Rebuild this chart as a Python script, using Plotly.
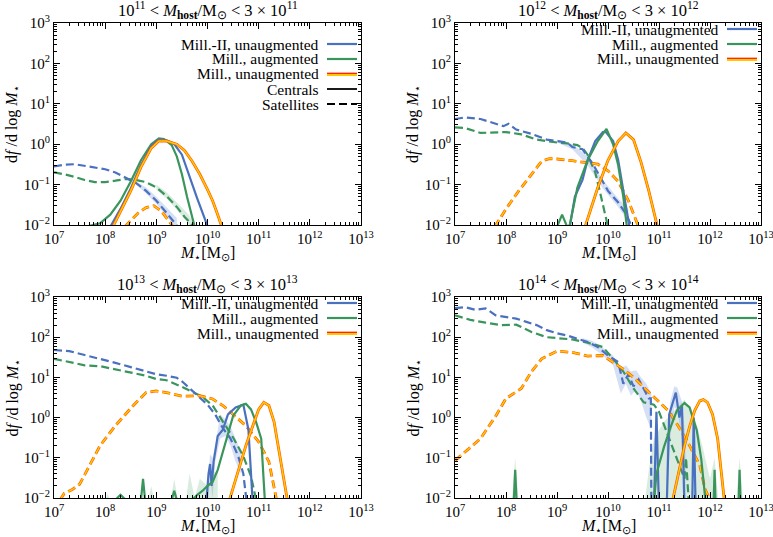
import plotly.graph_objects as go

W, H = 773, 537
FONT = "Liberation Serif"

# ---------------- data (x given as log10 of M*/Msun) ----------------
# Panel 1: 1e11 < Mhost < 3e11
P1_BLUE_C_X = [8.1, 8.3, 8.5, 8.7, 8.9, 9.05, 9.2, 9.35, 9.5, 9.65, 9.8, 9.95, 10.02]
P1_BLUE_C_Y = [0.009, 0.025, 0.08, 0.3, 0.9, 1.3, 1.25, 1.0, 0.55, 0.15, 0.045, 0.014, 0.008]
P1_GREEN_C_X = [7.7, 7.9, 8.1, 8.3, 8.5, 8.7, 8.9, 9.05, 9.15, 9.3, 9.4, 9.5, 9.6, 9.7, 9.76]
P1_GREEN_C_Y = [0.0095, 0.011, 0.018, 0.04, 0.12, 0.4, 1.0, 1.4, 1.35, 0.95, 0.5, 0.18, 0.05, 0.015, 0.008]
P1_ORANGE_C_X = [8.15, 8.3, 8.5, 8.7, 8.9, 9.05, 9.2, 9.4, 9.55, 9.7, 9.85, 10.0, 10.1, 10.2, 10.28]
P1_ORANGE_C_Y = [0.009, 0.022, 0.07, 0.27, 0.8, 1.2, 1.2, 1.0, 0.7, 0.38, 0.18, 0.075, 0.04, 0.018, 0.009]
P1_BLUE_S_X = [7.0, 7.2, 7.4, 7.6, 7.8, 8.0, 8.2, 8.4, 8.6, 8.8, 9.0, 9.2, 9.35, 9.42]
P1_BLUE_S_Y = [0.28, 0.31, 0.32, 0.29, 0.26, 0.24, 0.2, 0.15, 0.11, 0.07, 0.04, 0.02, 0.012, 0.009]
P1_GREEN_S_X = [7.0, 7.2, 7.4, 7.6, 7.8, 8.0, 8.2, 8.4, 8.6, 8.8, 9.0, 9.2, 9.4, 9.55, 9.7, 9.75]
P1_GREEN_S_Y = [0.2, 0.18, 0.155, 0.13, 0.115, 0.115, 0.125, 0.138, 0.13, 0.115, 0.085, 0.052, 0.028, 0.016, 0.01, 0.008]
P1_ORANGE_S_X = [8.38, 8.5, 8.65, 8.8, 8.95, 9.1, 9.25, 9.33]
P1_ORANGE_S_Y = [0.009, 0.013, 0.02, 0.027, 0.03, 0.022, 0.012, 0.009]
P1_BAND_BLUE_X = [8.6, 8.8, 9.0, 9.2, 9.4]
P1_BAND_BLUE_HI = [0.12, 0.085, 0.05, 0.027, 0.015]
P1_BAND_BLUE_LO = [0.1, 0.06, 0.033, 0.016, 0.008]
P1_BAND_GREEN_X = [9.0, 9.2, 9.4, 9.6, 9.75]
P1_BAND_GREEN_HI = [0.1, 0.065, 0.036, 0.02, 0.011]
P1_BAND_GREEN_LO = [0.075, 0.045, 0.024, 0.012, 0.006]

# Panel 2: 1e12 < Mhost < 3e12
P2_BLUE_S_X = [7.0, 7.2, 7.5, 7.8, 7.95, 8.05, 8.2, 8.5, 8.8, 9.0, 9.2, 9.3, 9.5, 9.7, 9.85, 10.0, 10.2, 10.35, 10.47]
P2_BLUE_S_Y = [4.2, 4.6, 4.2, 3.3, 2.8, 3.2, 2.3, 1.8, 1.3, 1.2, 1.1, 0.85, 0.75, 0.33, 0.15, 0.07, 0.036, 0.019, 0.009]
P2_GREEN_S_X = [7.0, 7.2, 7.5, 7.8, 8.0, 8.3, 8.6, 9.0, 9.2, 9.4, 9.5, 9.6, 9.75, 9.85, 9.95, 10.0]
P2_GREEN_S_Y = [2.6, 2.5, 1.9, 1.95, 2.0, 1.75, 1.3, 1.1, 1.05, 0.95, 0.8, 0.55, 0.2, 0.06, 0.015, 0.009]
P2_ORANGE_S_X = [7.78, 8.0, 8.25, 8.5, 8.7, 8.85, 9.0, 9.3, 9.6, 9.8, 10.0, 10.2, 10.4, 10.5, 10.6]
P2_ORANGE_S_Y = [0.009, 0.025, 0.07, 0.18, 0.38, 0.44, 0.43, 0.39, 0.35, 0.32, 0.22, 0.12, 0.04, 0.019, 0.009]
P2_BLUE_C_X = [9.25, 9.35, 9.5, 9.6, 9.75, 9.9, 9.95, 10.1, 10.2, 10.3, 10.42]
P2_BLUE_C_Y = [0.009, 0.05, 0.13, 0.4, 1.2, 2.0, 2.05, 1.2, 0.4, 0.08, 0.009]
P2_GREEN_C_X = [9.0, 9.1, 9.2, 9.25, 9.4, 9.6, 9.8, 9.97, 10.1, 10.2, 10.3, 10.37]
P2_GREEN_C_Y = [0.009, 0.018, 0.009, 0.01, 0.085, 0.4, 1.2, 2.4, 1.0, 0.3, 0.05, 0.009]
P2_ORANGE_C_X = [9.55, 9.8, 10.0, 10.2, 10.35, 10.5, 10.65, 10.8, 10.97]
P2_ORANGE_C_Y = [0.009, 0.085, 0.4, 1.2, 1.9, 1.3, 0.35, 0.07, 0.009]
P2_BAND_BLUE_X = [9.0, 9.3, 9.6, 9.9, 10.2, 10.4]
P2_BAND_BLUE_HI = [1.3, 1.0, 0.5, 0.13, 0.045, 0.025]
P2_BAND_BLUE_LO = [1.1, 0.75, 0.3, 0.08, 0.028, 0.012]

# Panel 3: 1e13 < Mhost < 3e13
P3_BLUE_S_X = [7.0, 7.3, 7.6, 7.9, 8.2, 8.5, 8.8, 9.0, 9.2, 9.4, 9.5, 9.7, 9.85, 10.0, 10.15, 10.3, 10.45, 10.6, 10.7, 10.76]
P3_BLUE_S_Y = [48, 45, 36, 29, 23, 18, 14, 12, 11, 9.8, 8, 4.6, 3.0, 2.1, 1.2, 0.55, 0.3, 0.11, 0.04, 0.009]
P3_GREEN_S_X = [7.0, 7.3, 7.6, 7.9, 8.2, 8.5, 8.8, 9.0, 9.2, 9.5, 9.7, 9.9, 10.1, 10.3, 10.5, 10.7, 10.85, 10.95]
P3_GREEN_S_Y = [29, 24, 20, 19, 16, 13, 11, 9.1, 8.5, 5.8, 4.3, 3.3, 2.0, 0.8, 0.32, 0.11, 0.035, 0.009]
P3_ORANGE_S_X = [7.12, 7.2, 7.35, 7.5, 7.65, 7.9, 8.2, 8.55, 8.8, 9.0, 9.2, 9.5, 9.85, 10.1, 10.3, 10.5, 10.75, 11.0, 11.2, 11.35]
P3_ORANGE_S_Y = [0.009, 0.013, 0.016, 0.022, 0.05, 0.2, 0.63, 2.0, 4.2, 4.6, 4.2, 3.4, 3.5, 2.9, 2.0, 1.2, 0.63, 0.25, 0.08, 0.009]
P3_BLUE_C_X = [9.98, 10.02, 10.05, 10.08, 10.12, 10.2, 10.3, 10.4, 10.55, 10.7, 10.8, 10.88]
P3_BLUE_C_Y = [0.009, 0.04, 0.07, 0.02, 0.08, 0.35, 0.5, 1.2, 1.8, 2.1, 0.5, 0.009]
P3_GREEN_C_X = [8.2, 8.3, 8.4, 8.7, 8.74, 8.78, 9.3, 9.35, 9.4, 9.7, 9.8, 9.9, 10.0, 10.1, 10.2, 10.3, 10.4, 10.5, 10.65, 10.75, 10.85, 10.95, 11.05, 11.12]
P3_GREEN_C_Y = [0.009, 0.012, 0.009, 0.009, 0.03, 0.009, 0.009, 0.015, 0.009, 0.009, 0.012, 0.015, 0.02, 0.025, 0.05, 0.14, 0.44, 1.1, 2.0, 2.2, 1.6, 0.77, 0.3, 0.009]
P3_ORANGE_C_X = [10.43, 10.6, 10.75, 10.9, 11.0, 11.1, 11.2, 11.3, 11.4, 11.5, 11.56]
P3_ORANGE_C_Y = [0.009, 0.05, 0.2, 0.7, 1.6, 2.4, 2.0, 0.8, 0.15, 0.025, 0.009]
P3_BAND_BLUE_X = [10.0, 10.05, 10.1, 10.15, 10.25, 10.35, 10.45, 10.55, 10.65]
P3_BAND_BLUE_HI = [0.02, 0.12, 0.1, 0.2, 1.2, 0.9, 0.6, 0.3, 0.15]
P3_BAND_BLUE_LO = [0.005, 0.03, 0.01, 0.08, 0.3, 0.35, 0.2, 0.08, 0.04]
P3_BAND_GREEN_X = [7.95, 8.05, 8.15, 8.8, 8.9, 9.0, 9.25, 9.35, 9.45, 9.55, 9.65, 9.75, 9.85, 10.0, 10.1, 10.2]
P3_BAND_GREEN_HI = [0.005, 0.013, 0.005, 0.005, 0.02, 0.005, 0.005, 0.03, 0.005, 0.005, 0.04, 0.01, 0.03, 0.02, 0.04, 0.05]
P3_BAND_GREEN_LO = [0.004] * 16

# Panel 4: 1e14 < Mhost < 3e14
P4_BLUE_S_X = [7.0, 7.2, 7.4, 7.6, 7.8, 8.0, 8.2, 8.4, 8.6, 8.8, 9.0, 9.2, 9.4, 9.6, 9.8, 10.0, 10.2, 10.3, 10.4, 10.5, 10.6, 10.7, 10.8, 10.84, 10.85]
P4_BLUE_S_Y = [530, 560, 480, 520, 350, 320, 290, 240, 200, 150, 125, 110, 92, 76, 57, 35, 24, 7, 12, 6, 9, 5, 3, 3, 0.005]
P4_GREEN_S_X = [7.0, 7.3, 7.6, 7.9, 8.2, 8.5, 8.8, 9.0, 9.3, 9.6, 9.9, 10.1, 10.3, 10.5, 10.7, 10.9, 11.0, 11.1, 11.2, 11.3, 11.4, 11.5, 11.53, 11.58]
P4_GREEN_S_Y = [350, 270, 230, 200, 205, 135, 100, 95, 88, 73, 57, 29, 14, 5.3, 2.4, 2.1, 1.4, 0.65, 0.3, 0.14, 0.06, 0.03, 0.1, 0.009]
P4_ORANGE_S_X = [7.0, 7.2, 7.5, 7.8, 8.0, 8.3, 8.5, 8.7, 9.0, 9.3, 9.6, 9.9, 10.1, 10.3, 10.5, 10.8, 11.0, 11.2, 11.4, 11.6, 11.8, 11.9, 12.0]
P4_ORANGE_S_Y = [0.085, 0.14, 0.3, 1.1, 3, 5.3, 14, 29, 45, 42, 34, 35, 24, 16, 10, 4.3, 2.5, 1.4, 0.55, 0.2, 0.065, 0.017, 0.009]
P4_BLUE_C_X = [10.9, 10.95, 11.0, 11.15, 11.2, 11.27, 11.33, 11.4, 11.45, 11.5, 11.65, 11.68, 11.72]
P4_BLUE_C_Y = [0.005, 1.4, 0.005, 0.005, 1.2, 2.5, 4.2, 1.0, 2.0, 0.005, 0.005, 1.0, 0.005]
P4_GREEN_C_X = [8.12, 8.18, 8.24, 10.84, 10.95, 11.1, 11.23, 11.35, 11.5, 11.6, 11.74, 11.83, 11.93, 12.05, 12.09, 12.13, 12.54, 12.58, 12.62]
P4_GREEN_C_Y = [0.001, 0.05, 0.001, 0.001, 0.04, 0.19, 0.59, 1.5, 2.3, 1.8, 0.49, 0.09, 0.005, 0.001, 0.05, 0.001, 0.001, 0.05, 0.001]
P4_ORANGE_C_X = [11.27, 11.4, 11.5, 11.6, 11.7, 11.8, 11.87, 11.95, 12.05, 12.15, 12.22, 12.28]
P4_ORANGE_C_Y = [0.009, 0.05, 0.2, 0.6, 1.5, 2.6, 2.8, 2.4, 1.2, 0.3, 0.05, 0.009]
P4_BAND_BLUE_X = [9.5, 9.7, 9.9, 10.1, 10.25, 10.35, 10.45, 10.55, 10.65, 10.75, 10.85]
P4_BAND_BLUE_HI = [95, 80, 55, 35, 16, 20, 14, 15, 10, 7, 4]
P4_BAND_BLUE_LO = [75, 55, 35, 20, 4, 7, 3.5, 5, 2.5, 1.0, 0.5]
P4_BAND_BLUE2_X = [11.15, 11.22, 11.3, 11.36, 11.45, 11.52]
P4_BAND_BLUE2_HI = [0.2, 2.5, 6.0, 5.5, 2.5, 0.3]
P4_BAND_BLUE2_LO = [0.005, 0.3, 1.8, 1.5, 0.3, 0.005]
P4_BAND_GREEN_X = [8.1, 8.18, 8.26, 10.7, 10.8, 10.9, 11.1, 11.3, 11.5, 11.7, 11.85, 12.0, 12.09, 12.18, 12.5, 12.58, 12.66]
P4_BAND_GREEN_HI = [0.005, 0.1, 0.005, 0.005, 0.05, 0.3, 0.8, 1.5, 2.8, 1.0, 0.2, 0.03, 0.1, 0.005, 0.005, 0.1, 0.005]
P4_BAND_GREEN_LO = [0.004] * 17

TITLES = [
    "10<sup>11</sup> &lt; <i>M</i><sub><b>host</b></sub>/M<sub>⊙</sub> &lt; 3 × 10<sup>11</sup>",
    "10<sup>12</sup> &lt; <i>M</i><sub><b>host</b></sub>/M<sub>⊙</sub> &lt; 3 × 10<sup>12</sup>",
    "10<sup>13</sup> &lt; <i>M</i><sub><b>host</b></sub>/M<sub>⊙</sub> &lt; 3 × 10<sup>13</sup>",
    "10<sup>14</sup> &lt; <i>M</i><sub><b>host</b></sub>/M<sub>⊙</sub> &lt; 3 × 10<sup>14</sup>",
]
X_TICK_EXP = [7, 8, 9, 10, 11, 12, 13]
Y_TICK_EXP = [-2, -1, 0, 1, 2, 3]
LEGEND_LABELS = ["Mill.-II, unaugmented", "Mill., augmented", "Mill., unaugmented", "Centrals", "Satellites"]

# ---------------- styling ----------------
BLUE = "#4a70c0"
GREEN = "#3a955c"
RED = "#ff5a00"
YELLOW = "#ffc800"
BLUE_FILL = "rgba(90,130,210,0.25)"
GREEN_FILL = "rgba(80,170,110,0.22)"
DASH = "8px,4px"

# pixel boxes for panels in the window: (left, right, top, bottom)
BOXES = [(54, 361, 23, 225), (455, 761, 23, 225), (54, 361, 297, 498), (455, 761, 297, 498)]


def pxx(x):
    return x / W


def pxy(y):
    return 1 - y / H


fig = go.Figure()


def lin(v):
    return [10 ** e for e in v]


def axes_of(k):
    return dict(xaxis="x" if k == 1 else f"x{k}", yaxis="y" if k == 1 else f"y{k}")


def add_band(k, xs, hi, lo, color):
    ax = axes_of(k)
    fig.add_trace(go.Scatter(x=lin(xs), y=hi, mode="lines", line=dict(width=0), showlegend=False,
                             hoverinfo="skip", **ax))
    fig.add_trace(go.Scatter(x=lin(xs), y=lo, mode="lines", line=dict(width=0), fill="tonexty",
                             fillcolor=color, showlegend=False, hoverinfo="skip", **ax))


def add_line(k, xs, ys, color, dashed, kind="plain"):
    ax = axes_of(k)
    dash = DASH if dashed else "solid"
    if kind == "orange":
        fig.add_trace(go.Scatter(x=lin(xs), y=ys, mode="lines", showlegend=False,
                                 line=dict(color=RED, width=2.8, dash=dash), **ax))
        fig.add_trace(go.Scatter(x=lin(xs), y=ys, mode="lines", showlegend=False,
                                 line=dict(color=YELLOW, width=1.5, dash=dash), **ax))
    else:
        fig.add_trace(go.Scatter(x=lin(xs), y=ys, mode="lines", showlegend=False,
                                 line=dict(color=color, width=2.2, dash=dash), **ax))


# Panel 1
add_band(1, P1_BAND_BLUE_X, P1_BAND_BLUE_HI, P1_BAND_BLUE_LO, BLUE_FILL)
add_band(1, P1_BAND_GREEN_X, P1_BAND_GREEN_HI, P1_BAND_GREEN_LO, GREEN_FILL)
add_line(1, P1_GREEN_S_X, P1_GREEN_S_Y, GREEN, True)
add_line(1, P1_BLUE_S_X, P1_BLUE_S_Y, BLUE, True)
add_line(1, P1_ORANGE_S_X, P1_ORANGE_S_Y, None, True, "orange")
add_line(1, P1_GREEN_C_X, P1_GREEN_C_Y, GREEN, False)
add_line(1, P1_BLUE_C_X, P1_BLUE_C_Y, BLUE, False)
add_line(1, P1_ORANGE_C_X, P1_ORANGE_C_Y, None, False, "orange")
# Panel 2
add_band(2, P2_BAND_BLUE_X, P2_BAND_BLUE_HI, P2_BAND_BLUE_LO, BLUE_FILL)
add_line(2, P2_GREEN_S_X, P2_GREEN_S_Y, GREEN, True)
add_line(2, P2_BLUE_S_X, P2_BLUE_S_Y, BLUE, True)
add_line(2, P2_ORANGE_S_X, P2_ORANGE_S_Y, None, True, "orange")
add_line(2, P2_BLUE_C_X, P2_BLUE_C_Y, BLUE, False)
add_line(2, P2_GREEN_C_X, P2_GREEN_C_Y, GREEN, False)
add_line(2, P2_ORANGE_C_X, P2_ORANGE_C_Y, None, False, "orange")
# Panel 3
add_band(3, P3_BAND_GREEN_X, P3_BAND_GREEN_HI, P3_BAND_GREEN_LO, GREEN_FILL)
add_band(3, P3_BAND_BLUE_X, P3_BAND_BLUE_HI, P3_BAND_BLUE_LO, BLUE_FILL)
add_line(3, P3_GREEN_S_X, P3_GREEN_S_Y, GREEN, True)
add_line(3, P3_BLUE_S_X, P3_BLUE_S_Y, BLUE, True)
add_line(3, P3_ORANGE_S_X, P3_ORANGE_S_Y, None, True, "orange")
add_line(3, P3_BLUE_C_X, P3_BLUE_C_Y, BLUE, False)
add_line(3, P3_GREEN_C_X, P3_GREEN_C_Y, GREEN, False)
add_line(3, P3_ORANGE_C_X, P3_ORANGE_C_Y, None, False, "orange")
# Panel 4
add_band(4, P4_BAND_GREEN_X, P4_BAND_GREEN_HI, P4_BAND_GREEN_LO, GREEN_FILL)
add_band(4, P4_BAND_BLUE_X, P4_BAND_BLUE_HI, P4_BAND_BLUE_LO, BLUE_FILL)
add_band(4, P4_BAND_BLUE2_X, P4_BAND_BLUE2_HI, P4_BAND_BLUE2_LO, BLUE_FILL)
add_line(4, P4_GREEN_S_X, P4_GREEN_S_Y, GREEN, True)
add_line(4, P4_BLUE_S_X, P4_BLUE_S_Y, BLUE, True)
add_line(4, P4_ORANGE_S_X, P4_ORANGE_S_Y, None, True, "orange")
add_line(4, P4_BLUE_C_X, P4_BLUE_C_Y, BLUE, False)
add_line(4, P4_GREEN_C_X, P4_GREEN_C_Y, GREEN, False)
add_line(4, P4_ORANGE_C_X, P4_ORANGE_C_Y, None, False, "orange")

layout = dict(
    width=W, height=H, margin=dict(l=0, r=0, t=0, b=0, autoexpand=False),
    paper_bgcolor="white", plot_bgcolor="white", showlegend=False,
    font=dict(family=FONT, size=14, color="black"),
)
annotations = []
shapes = []
for i, (l, r, t, b) in enumerate(BOXES):
    k = i + 1
    xn = "xaxis" if k == 1 else f"xaxis{k}"
    yn = "yaxis" if k == 1 else f"yaxis{k}"
    common = dict(type="log", showline=True, linecolor="black", linewidth=1.2, mirror="allticks",
                  ticks="inside", ticklen=6, tickwidth=1, tickcolor="black", showgrid=False, zeroline=False,
                  automargin=False, ticklabeloverflow="allow",
                  minor=dict(ticks="inside", ticklen=3, tickwidth=0.8, tickcolor="black", dtick="D1", showgrid=False),
                  tickfont=dict(family=FONT, size=15))
    layout[xn] = dict(domain=[pxx(l), pxx(r)], anchor="y" if k == 1 else f"y{k}",
                      range=[7, 13], tickvals=lin(X_TICK_EXP),
                      ticktext=[f"10<sup>{e}</sup>" for e in X_TICK_EXP],
                      **common)
    layout[yn] = dict(domain=[pxy(b), pxy(t)], anchor="x" if k == 1 else f"x{k}",
                      range=[-2, 3], tickvals=lin(Y_TICK_EXP),
                      ticktext=[f"10<sup>{e if e >= 0 else '−' + str(-e)}</sup>" for e in Y_TICK_EXP],
                      **common)
    # axis titles as annotations
    annotations.append(dict(text="<i>M</i><sub>⋆</sub>[M<sub>⊙</sub>]", x=pxx((l + r) / 2), y=pxy(b + 28),
                            xref="paper", yref="paper", xanchor="center", yanchor="middle", showarrow=False,
                            font=dict(family=FONT, size=16)))
    annotations.append(dict(text="d<i>f</i> /d log <i>M</i><sub>⋆</sub>", x=pxx(l - 41), y=pxy((t + b) / 2),
                            xref="paper", yref="paper", xanchor="center", yanchor="middle", showarrow=False,
                            textangle=-90, font=dict(family=FONT, size=16)))
    # panel title
    annotations.append(dict(text=TITLES[i], x=pxx((l + r) / 2), y=pxy(t - 13), xref="paper", yref="paper",
                            xanchor="center", yanchor="middle", showarrow=False,
                            font=dict(family=FONT, size=16.5)))
    # legend (text right-aligned, line sample to the right)
    n = 5 if k == 1 else 3
    if k == 1:
        rows = [44, 59, 74, 89, 104]
    else:
        rows = [t + 6, t + 21, t + 36]
    text_r = r - 40
    for j in range(n):
        yy = rows[j]
        annotations.append(dict(text=LEGEND_LABELS[j], x=pxx(text_r), y=pxy(yy), xref="paper", yref="paper",
                                xanchor="right", yanchor="middle", showarrow=False,
                                font=dict(family=FONT, size=15.5)))
        x0, x1 = pxx(r - 34), pxx(r - 4)
        if j == 0:
            shapes.append(dict(type="line", xref="paper", yref="paper", x0=x0, x1=x1, y0=pxy(yy), y1=pxy(yy),
                               line=dict(color=BLUE, width=2.2)))
        elif j == 1:
            shapes.append(dict(type="line", xref="paper", yref="paper", x0=x0, x1=x1, y0=pxy(yy), y1=pxy(yy),
                               line=dict(color=GREEN, width=2.2)))
        elif j == 2:
            shapes.append(dict(type="line", xref="paper", yref="paper", x0=x0, x1=x1, y0=pxy(yy + 1), y1=pxy(yy + 1),
                               line=dict(color=YELLOW, width=2)))
            shapes.append(dict(type="line", xref="paper", yref="paper", x0=x0, x1=x1, y0=pxy(yy - 0.7), y1=pxy(yy - 0.7),
                               line=dict(color="#ff1a00", width=1.3)))
        elif j == 3:
            shapes.append(dict(type="line", xref="paper", yref="paper", x0=x0, x1=x1, y0=pxy(yy), y1=pxy(yy),
                               line=dict(color="black", width=1.8)))
        else:
            shapes.append(dict(type="line", xref="paper", yref="paper", x0=x0, x1=x1, y0=pxy(yy), y1=pxy(yy),
                               line=dict(color="black", width=1.8, dash="8px,4px")))

layout["annotations"] = annotations
layout["shapes"] = shapes
fig.update_layout(**layout)
fig.write_html("out.html", config={"displayModeBar": False},
               post_script="document.body.style.margin='0';document.body.style.overflow='hidden';")
